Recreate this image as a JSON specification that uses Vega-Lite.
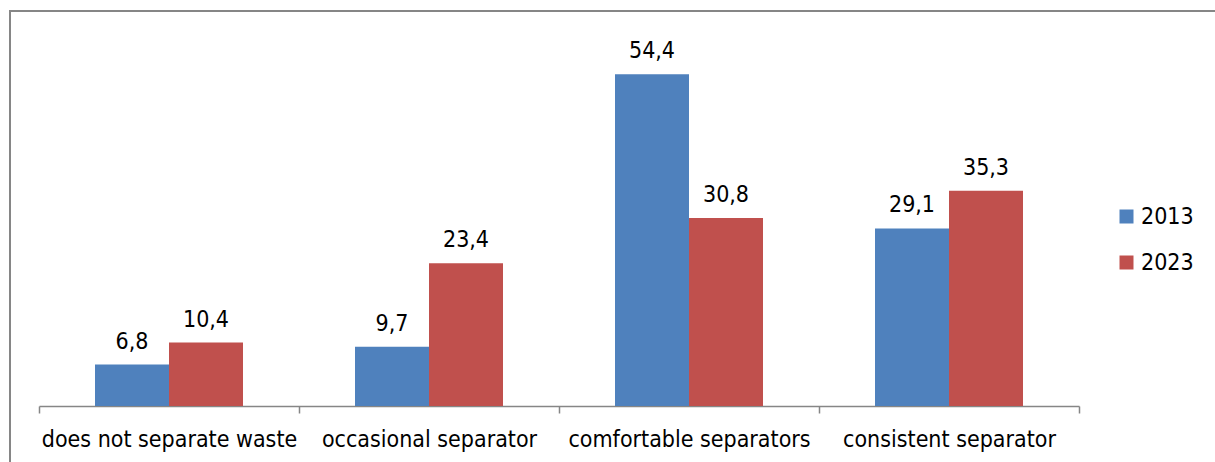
{
  "$schema": "https://vega.github.io/schema/vega-lite/v6.json",
  "autosize": "none",
  "padding": {"left": 10, "top": 11, "right": 0, "bottom": 0},
  "width": 1205,
  "height": 451,
  "data": {
    "values": [
      {"category": "does not separate waste", "year": "2013", "value": 6.8},
      {"category": "does not separate waste", "year": "2023", "value": 10.4},
      {"category": "occasional separator", "year": "2013", "value": 9.7},
      {"category": "occasional separator", "year": "2023", "value": 23.4},
      {"category": "comfortable separators", "year": "2013", "value": 54.4},
      {"category": "comfortable separators", "year": "2023", "value": 30.8},
      {"category": "consistent separator", "year": "2013", "value": 29.1},
      {"category": "consistent separator", "year": "2023", "value": 35.3}
    ]
  },
  "encoding": {
    "x": {
      "field": "category",
      "type": "nominal",
      "sort": null,
      "scale": {"range": [29, 1069], "paddingInner": 0, "paddingOuter": 0},
      "axis": {
        "title": null,
        "orient": "bottom",
        "offset": -56,
        "labelAngle": 0,
        "labelFont": "DejaVu Sans Condensed",
        "labelFontSize": 23,
        "labelColor": "#000000",
        "labelPadding": 15,
        "labelLimit": 0,
        "domainColor": "#868686",
        "domainWidth": 1.5,
        "tickColor": "#868686",
        "tickWidth": 1.5,
        "tickSize": 7,
        "tickBand": "extent",
        "grid": false
      }
    },
    "xOffset": {
      "field": "year",
      "type": "nominal",
      "scale": {"paddingInner": 0, "paddingOuter": 0.7568}
    },
    "y": {
      "field": "value",
      "type": "quantitative",
      "scale": {"domain": [0, 60], "range": [395, 29], "nice": false},
      "axis": null
    }
  },
  "layer": [
    {
      "mark": {"type": "bar"},
      "encoding": {
        "color": {
          "field": "year",
          "type": "nominal",
          "scale": {"domain": ["2013", "2023"], "range": ["#4F81BD", "#C0504D"]},
          "legend": {
            "title": null,
            "orient": "none",
            "legendX": 1105,
            "legendY": 194,
            "symbolType": "square",
            "symbolSize": 196,
            "symbolStrokeWidth": 0,
            "labelFont": "DejaVu Sans Condensed",
            "labelFontSize": 23,
            "labelColor": "#000000",
            "labelOffset": 3,
            "rowPadding": 22
          }
        }
      }
    },
    {
      "mark": {
        "type": "text",
        "baseline": "alphabetic",
        "dy": -16,
        "font": "DejaVu Sans Condensed",
        "fontSize": 23,
        "color": "#000000"
      },
      "encoding": {
        "text": {"field": "value", "type": "quantitative", "format": ".1f"}
      }
    }
  ],
  "config": {
    "locale": {
      "number": {"decimal": ",", "thousands": ".", "grouping": [3], "currency": ["", " €"]}
    },
    "view": {
      "stroke": "#868686",
      "strokeWidth": 2,
      "strokeDash": [1205, 1656, 451]
    }
  }
}
